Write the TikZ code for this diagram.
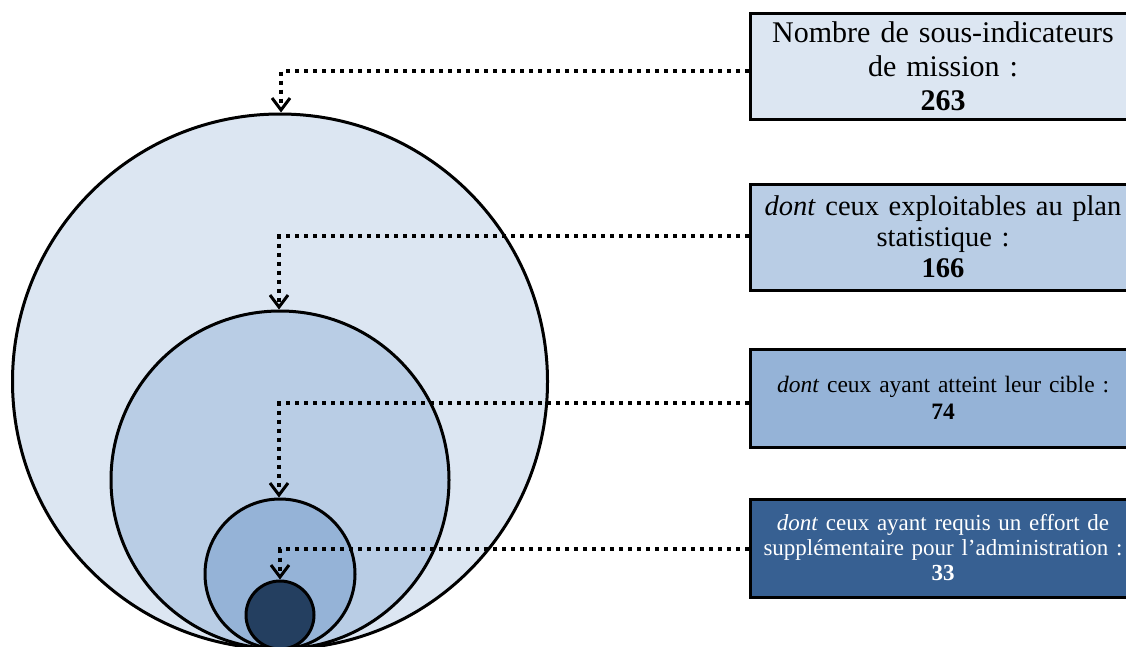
\documentclass[tikz,border=0pt]{standalone}
\usepackage{fontspec}
\setmainfont{Liberation Serif}
\usetikzlibrary{arrows.meta}
\definecolor{cA}{HTML}{DCE6F2}
\definecolor{cB}{HTML}{B9CDE5}
\definecolor{cC}{HTML}{95B3D7}
\definecolor{cD}{HTML}{243F60}
\definecolor{cE}{HTML}{376092}
\tikzset{
  ring/.style={circle, draw=black, line width=3pt, inner sep=0pt},
  infobox/.style={rectangle, draw=black, line width=3pt, minimum width=386pt, minimum height=106pt, inner sep=0pt, align=center, text width=380pt},
  conn/.style={line width=4pt, dash pattern=on 4pt off 5pt, -{Straight Barb[length=12pt,width=18pt,line width=3pt]}},
}
\begin{document}
\begin{tikzpicture}[x=1pt,y=-1pt]
\useasboundingbox (0,0) rectangle (1126,646);
\clip (0,0) rectangle (1126,646);
% circles
\node[ring, fill=cA, minimum size=535pt] (c1) at (280,381.5) {};
\node[ring, fill=cB, minimum size=338pt] (c2) at (280,480) {};
\node[ring, fill=cC, minimum size=150pt] (c3) at (280,574) {};
\node[ring, fill=cD, minimum size=68pt] (c4) at (280,615) {};
% boxes
\node[infobox, fill=cA, font=\fontsize{30}{34}\selectfont] (b1) at (943,66)
  {Nombre de sous-indicateurs\\de mission :\\\textbf{263}};
\node[infobox, fill=cB, font=\fontsize{28.5}{31}\selectfont] (b2) at (943,237)
  {\textit{dont} ceux exploitables au plan\\statistique :\\\textbf{166}};
\node[infobox, fill=cC, minimum height=98pt, font=\fontsize{23.5}{27}\selectfont] (b3) at (943,398)
  {\textit{dont} ceux ayant atteint leur cible :\\\textbf{74}};
\node[infobox, fill=cE, minimum height=98pt, text=white, font=\fontsize{23}{25}\selectfont] (b4) at (943,548)
  {\textit{dont} ceux ayant requis un effort de\\supplémentaire pour l’administration :\\\textbf{33}};
% connectors
\coordinate (k1) at (281,71);
\coordinate (k2) at (279,236);
\coordinate (k3) at (279,403);
\coordinate (k4) at (280,549);
\draw[conn] (b1.west |- k1) -- (k1) -- (k1 |- c1.north);
\draw[conn] (b2.west |- k2) -- (k2) -- (k2 |- c2.north);
\draw[conn] (b3.west |- k3) -- (k3) -- (k3 |- c3.north);
\draw[conn] (b4.west |- k4) -- (k4) -- (k4 |- c4.north);
\end{tikzpicture}
\end{document}
